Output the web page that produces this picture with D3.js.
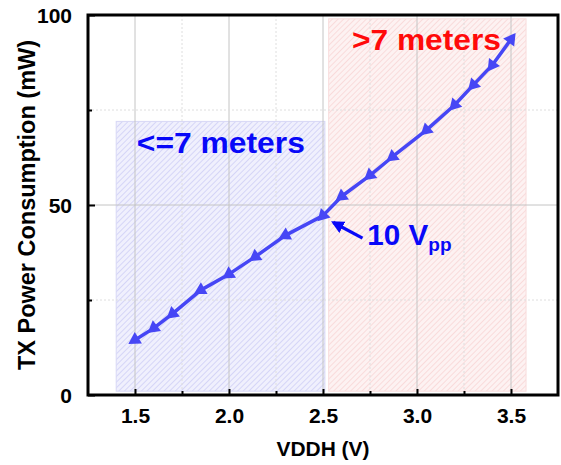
<!DOCTYPE html>
<html>
<head>
<meta charset="utf-8">
<script src="https://cdn.jsdelivr.net/npm/d3@7"></script>
<style>
  html, body { margin: 0; padding: 0; background: #fff; }
  svg { display: block; font-family: Arial, "Liberation Sans", sans-serif; }
</style>
</head>
<body>
<svg id="chart" width="561" height="465"></svg>
<script>
// Supply voltage (V) and measured TX power (mW)
const vddh = [1.5, 1.6, 1.7, 1.85, 2.0, 2.14, 2.3, 2.5, 2.6, 2.75, 2.87, 3.05, 3.2, 3.3, 3.4, 3.5];
const powerMW = [14.5, 17.6, 21.4, 27.6, 31.8, 36.4, 42.0, 47.2, 52.3, 57.8, 62.7, 69.7, 76.3, 81.6, 86.8, 93.6];

const xMajorTicks = [1.5, 2.0, 2.5, 3.0, 3.5];
const xMinorTicks = [1.75, 2.25, 2.75, 3.25];
const yMajorTicks = [0, 50, 100];
const yMinorTicks = [25, 75];

// Shaded range regions: [x0, x1, y0, y1]
const shortRange = [1.4, 2.51, 1, 72];
const longRange = [2.53, 3.58, 1, 99];

const svg = d3.select("#chart");
const plotL = 88, plotR = 558, plotT = 15, plotB = 395;

const x = d3.scaleLinear().domain([1.25, 3.75]).range([plotL, plotR]);
const y = d3.scaleLinear().domain([0, 100]).range([plotB, plotT]);

// Hatch patterns
const defs = svg.append("defs");
function hatch(id, bg, line) {
  const p = defs.append("pattern")
    .attr("id", id).attr("patternUnits", "userSpaceOnUse")
    .attr("width", 4).attr("height", 4)
    .attr("patternTransform", "rotate(45)");
  p.append("rect").attr("width", 4).attr("height", 4).attr("fill", bg);
  p.append("line").attr("x1", 0).attr("y1", 0).attr("x2", 0).attr("y2", 4)
    .attr("stroke", line).attr("stroke-width", 1.1);
}
hatch("hatchBlue", "#f0f0fd", "#c0c0f3");
hatch("hatchRed", "#fdf2f2", "#f7c8c8");

// Regions
function region(r, fill, edge) {
  svg.append("rect")
    .attr("x", x(r[0])).attr("y", y(r[3]))
    .attr("width", x(r[1]) - x(r[0])).attr("height", y(r[2]) - y(r[3]))
    .attr("fill", fill).attr("stroke", edge).attr("stroke-width", 1);
}
region(shortRange, "url(#hatchBlue)", "#d8d8f6");
region(longRange, "url(#hatchRed)", "#f8dddd");

// Grid lines
const grid = svg.append("g");
grid.selectAll(".vmaj").data(xMajorTicks).join("line")
  .attr("x1", d => x(d)).attr("x2", d => x(d)).attr("y1", plotT).attr("y2", plotB)
  .attr("stroke", "#c4c4c4").attr("stroke-width", 1);
grid.selectAll(".vmin").data(xMinorTicks).join("line")
  .attr("x1", d => x(d)).attr("x2", d => x(d)).attr("y1", plotT).attr("y2", plotB)
  .attr("stroke", "#dedede").attr("stroke-width", 1).attr("stroke-dasharray", "2,2");
grid.selectAll(".hmaj").data([50]).join("line")
  .attr("x1", plotL).attr("x2", plotR).attr("y1", d => y(d)).attr("y2", d => y(d))
  .attr("stroke", "#c4c4c4").attr("stroke-width", 1);
grid.selectAll(".hmin").data(yMinorTicks).join("line")
  .attr("x1", plotL).attr("x2", plotR).attr("y1", d => y(d)).attr("y2", d => y(d))
  .attr("stroke", "#dedede").attr("stroke-width", 1).attr("stroke-dasharray", "2,2");

// Axes with inward ticks
const tickFont = g => g.selectAll("text")
  .attr("font-size", 21).attr("font-weight", "bold").attr("fill", "#000")
  .attr("font-family", "Arial, 'Liberation Sans', sans-serif");

const xAxis = svg.append("g").attr("transform", `translate(0,${plotB})`)
  .call(d3.axisBottom(x).tickValues(xMajorTicks).tickFormat(d3.format(".1f"))
    .tickSizeInner(-6).tickSizeOuter(0).tickPadding(13));
xAxis.call(tickFont);
xAxis.selectAll("line").attr("stroke-width", 2);
xAxis.select(".domain").remove();
svg.append("g").attr("transform", `translate(0,${plotB})`)
  .call(d3.axisBottom(x).tickValues(xMinorTicks).tickFormat("").tickSizeInner(-4).tickSizeOuter(0))
  .call(g => g.select(".domain").remove())
  .selectAll("line").attr("stroke-width", 2);

const yAxis = svg.append("g").attr("transform", `translate(${plotL},0)`)
  .call(d3.axisLeft(y).tickValues(yMajorTicks)
    .tickSizeInner(-7).tickSizeOuter(0).tickPadding(16));
yAxis.call(tickFont);
yAxis.selectAll("text").attr("dy", "0.36em");
yAxis.selectAll("line").attr("stroke-width", 2);
yAxis.select(".domain").remove();
svg.append("g").attr("transform", `translate(${plotL},0)`)
  .call(d3.axisLeft(y).tickValues(yMinorTicks).tickFormat("").tickSizeInner(-4).tickSizeOuter(0))
  .call(g => g.select(".domain").remove())
  .selectAll("line").attr("stroke-width", 2);

// Frame
svg.append("rect")
  .attr("x", plotL).attr("y", plotT).attr("width", plotR - plotL).attr("height", plotB - plotT)
  .attr("fill", "none").attr("stroke", "#000").attr("stroke-width", 3);

// Data line
const pts = vddh.map((v, i) => [v, powerMW[i]]);
const lineColor = "#4646f5";
svg.append("path")
  .datum(pts)
  .attr("fill", "none").attr("stroke", lineColor).attr("stroke-width", 3.5)
  .attr("stroke-linejoin", "round")
  .attr("d", d3.line().x(d => x(d[0])).y(d => y(d[1])));

// Triangle markers oriented along the curve
const tri = d3.symbol().type(d3.symbolTriangle).size(80);
svg.append("g").selectAll("path").data(pts).join("path")
  .attr("d", tri)
  .attr("fill", lineColor)
  .attr("transform", (d, i) => {
    let a;
    if (i < pts.length - 1) {
      const n = pts[i + 1];
      a = Math.atan2(y(d[1]) - y(n[1]), x(d[0]) - x(n[0]));
    } else {
      const p = pts[i - 1];
      a = Math.atan2(y(d[1]) - y(p[1]), x(d[0]) - x(p[0]));
    }
    const deg = a * 180 / Math.PI + 90;
    return `translate(${x(d[0])},${y(d[1])}) rotate(${deg})`;
  });

// Range labels
svg.append("text")
  .attr("x", x(1.51)).attr("y", y(63.7))
  .attr("font-size", 29).attr("font-weight", "bold").attr("fill", "#0808f8")
  .attr("textLength", 168).attr("lengthAdjust", "spacingAndGlyphs")
  .text("<=7 meters");
svg.append("text")
  .attr("x", x(2.654)).attr("y", y(90.8))
  .attr("font-size", 29).attr("font-weight", "bold").attr("fill", "#ff0a0a")
  .attr("textLength", 149).attr("lengthAdjust", "spacingAndGlyphs")
  .text(">7 meters");

// Annotation arrow and label
defs.append("marker")
  .attr("id", "arrowHead").attr("viewBox", "0 0 10 10")
  .attr("refX", 8).attr("refY", 5)
  .attr("markerWidth", 4).attr("markerHeight", 4)
  .attr("markerUnits", "strokeWidth").attr("orient", "auto")
  .append("path").attr("d", "M0,0 L10,5 L0,10 Z").attr("fill", "#0808f8");
svg.append("line")
  .attr("x1", x(2.71)).attr("y1", y(41.3))
  .attr("x2", x(2.555)).attr("y2", y(45.4))
  .attr("stroke", "#0808f8").attr("stroke-width", 3.2)
  .attr("marker-end", "url(#arrowHead)");
const ann = svg.append("text")
  .attr("x", x(2.736)).attr("y", y(39.5))
  .attr("font-size", 29).attr("font-weight", "bold").attr("fill", "#0808f8");
ann.append("tspan").attr("textLength", 61).attr("lengthAdjust", "spacingAndGlyphs").text("10 V");
ann.append("tspan").attr("font-size", 19).attr("dy", 6).text("pp");

// Axis titles
svg.append("text")
  .attr("x", 323).attr("y", 456)
  .attr("text-anchor", "middle")
  .attr("font-size", 20).attr("font-weight", "bold").attr("fill", "#000")
  .attr("textLength", 93).attr("lengthAdjust", "spacingAndGlyphs")
  .text("VDDH (V)");
svg.append("text")
  .attr("transform", `translate(35,${(plotT + plotB) / 2}) rotate(-90)`)
  .attr("text-anchor", "middle")
  .attr("font-size", 23).attr("font-weight", "bold").attr("fill", "#000")
  .attr("textLength", 330).attr("lengthAdjust", "spacingAndGlyphs")
  .text("TX Power Consumption (mW)");
</script>
</body>
</html>
